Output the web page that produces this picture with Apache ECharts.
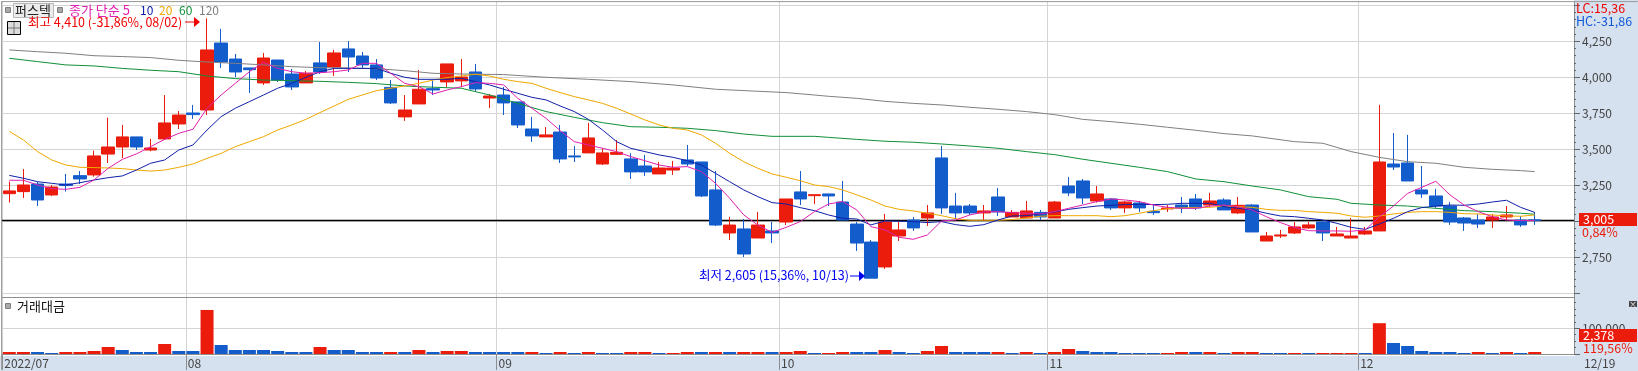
<!DOCTYPE html>
<html>
<head>
<meta charset="utf-8">
<title>퍼스텍</title>
<script src="https://cdn.jsdelivr.net/npm/echarts@6/dist/echarts.min.js"></script>
<style>
html,body{margin:0;padding:0;background:#fff;overflow:hidden}
#main{width:1638px;height:371px}
</style>
</head>
<body>
<div id="main"></div>
<script>
var opens=[3192,3206,3259,3183,3259,3317,3322,3467,3516,3586,3495,3572,3676,3752,3773,4238,4127,4065,3961,4120,4023,3961,4100,4072,4197,4148,4086,3930,3725,3815,3921,3968,3975,4037,3856,3877,3829,3641,3586,3620,3454,3475,3398,3465,3433,3384,3329,3356,3426,3412,3218,2919,2947,2884,2933,2995,3204,3178,3190,3134,2981,2856,2683,2898,3009,3023,3440,3106,3106,3058,3169,3030,3023,3062,3023,3245,3280,3141,3155,3093,3127,3069,3086,3113,3155,3113,3148,3058,3113,2863,2898,2919,2954,2995,2898,2884,2912,2933,3398,3405,3218,3176,3106,3023,3009,3009,3030,3009,3010];
var closes=[3211,3252,3148,3238,3248,3294,3454,3516,3586,3516,3509,3683,3738,3741,4190,4106,4037,4053,4134,3981,3933,4028,4037,4169,4141,4086,3995,3822,3773,3917,3912,4093,4002,3919,3870,3822,3669,3593,3600,3433,3447,3579,3475,3479,3343,3343,3370,3370,3398,3176,2974,2974,2773,2974,2919,3155,3155,3185,3176,3009,2849,2605,2995,2940,2954,3058,3093,3058,3058,3072,3065,3062,3072,3030,3134,3197,3162,3190,3093,3134,3093,3060,3092,3093,3093,3141,3079,3111,2926,2898,2905,2961,2975,2919,2912,2898,2933,3412,3377,3280,3190,3106,2995,2988,2981,3030,3044,2975,3005];
var lows=[3130,3162,3106,3176,3206,3259,3310,3405,3440,3495,3486,3565,3641,3711,3738,4065,4002,3891,3947,3968,3912,3961,4023,4009,4037,4062,3981,3815,3697,3815,3877,3933,3933,3900,3787,3738,3648,3551,3586,3405,3412,3475,3391,3461,3294,3315,3329,3322,3384,3169,2967,2870,2752,2884,2849,2974,3113,3120,3106,3009,2794,2605,2669,2863,2933,2968,3051,3016,3044,3009,3037,3030,3023,3009,3023,3176,3120,3130,3079,3058,3065,3044,3065,3058,3079,3099,3079,3051,2926,2863,2884,2912,2947,2863,2898,2884,2905,2933,3356,3280,3162,3093,2975,2933,2954,2954,3009,2961,2975];
var highs=[3275,3363,3275,3252,3329,3349,3491,3720,3669,3586,3572,3877,3766,3808,4410,4336,4162,4065,4169,4120,4058,4044,4245,4190,4252,4176,4127,3981,3877,4051,3977,4093,4127,4093,3884,3933,3829,3725,3655,3669,3523,3683,3507,3565,3472,3461,3412,3419,3530,3412,3349,3030,3016,3065,2995,3155,3349,3185,3190,3280,2995,2870,3051,2995,3030,3113,3523,3197,3120,3113,3231,3079,3141,3079,3141,3308,3294,3245,3162,3141,3141,3113,3113,3169,3190,3197,3160,3169,3120,2926,2940,2995,2995,3009,2961,3023,2961,3808,3613,3600,3384,3225,3134,3030,3051,3051,3106,3037,3065];

var ma5=[3285,3285,3252,3227,3222,3236,3287,3368,3430,3468,3518,3569,3611,3639,3785,3877,3958,4039,4104,4062,4039,4028,4032,4039,4051,4097,4097,4028,3958,3935,3884,3912,3935,3963,3958,3947,3854,3785,3715,3630,3553,3530,3507,3484,3449,3421,3391,3375,3380,3345,3264,3160,3044,2974,2923,2958,2998,3067,3120,3137,3079,2963,2940,2889,2875,2905,3002,3009,3044,3065,3067,3060,3056,3051,3067,3090,3113,3137,3155,3148,3137,3113,3097,3090,3090,3106,3113,3100,3079,3032,2991,2956,2935,2933,2933,2931,2940,3032,3106,3194,3236,3278,3183,3113,3067,3032,3009,3005,3005];
var ma10=[3319,3299,3275,3264,3252,3268,3287,3303,3315,3356,3403,3426,3495,3530,3634,3727,3785,3831,3877,3924,3958,4000,4039,4062,4062,4062,4062,4028,4000,3986,3986,3986,3993,3970,3947,3917,3889,3861,3843,3801,3762,3708,3634,3553,3507,3484,3461,3444,3421,3391,3333,3275,3218,3171,3130,3120,3095,3074,3044,3021,3016,2975,3002,3000,2998,2991,2998,2977,2965,2977,3009,3037,3039,3051,3065,3083,3095,3106,3111,3116,3118,3116,3118,3125,3125,3125,3102,3090,3079,3056,3037,3032,3021,3009,2986,2958,2944,2981,3021,3067,3095,3106,3113,3111,3120,3134,3146,3097,3062];
var ma20=[3625,3565,3484,3426,3391,3375,3373,3370,3366,3356,3349,3356,3375,3398,3437,3472,3518,3553,3588,3634,3669,3708,3755,3801,3847,3877,3907,3924,3940,3958,3981,3998,4009,4021,4009,3986,3970,3958,3924,3894,3866,3843,3819,3785,3745,3704,3669,3646,3634,3600,3542,3472,3414,3368,3329,3306,3282,3252,3241,3218,3183,3148,3106,3083,3072,3056,3039,3018,3007,3007,3007,3012,3023,3035,3039,3039,3039,3039,3032,3039,3056,3074,3088,3093,3095,3097,3106,3102,3097,3083,3076,3076,3067,3062,3056,3037,3028,3037,3051,3062,3067,3067,3062,3053,3051,3044,3037,3035,3044];
var ma60Idx=[0,2,4,6,8,10,12,14,16,18,20,22,24,26,28,29,32,34,36,38,40,42,44,46,48,50,52,54,57,58,60,62,64,66,68,70,72,74,76,78,80,82,84,86,88,90,92,94,95,97,99,101,103,105,107,108];
var ma60=[4132,4109,4086,4079,4062,4049,4039,4009,3991,3981,3977,3972,3965,3956,3940,3935,3924,3877,3819,3762,3722,3685,3657,3653,3646,3630,3606,3590,3590,3583,3569,3556,3549,3537,3523,3507,3484,3463,3431,3403,3375,3345,3294,3275,3245,3218,3171,3153,3125,3113,3106,3090,3074,3067,3056,3049];
var ma120Idx=[0,2,4,6,8,10,12,14,16,18,20,22,24,26,28,30,32,35,38,41,44,47,50,53,55,57,58,60,62,64,66,68,70,72,74,76,78,80,82,84,86,88,91,93,95,97,99,101,103,105,107,108];
var ma120=[4190,4178,4167,4150,4144,4137,4118,4106,4097,4086,4074,4067,4065,4060,4046,4028,4023,4019,4000,3986,3970,3947,3917,3903,3894,3877,3868,3854,3833,3819,3808,3792,3778,3762,3741,3708,3692,3674,3653,3632,3609,3593,3553,3542,3484,3444,3414,3403,3375,3361,3352,3345];

var turnover=[7800,7800,7800,3900,7800,7800,11700,27300,15600,7800,7800,39000,11700,11700,171500,35000,15600,15600,15600,11700,7800,7800,27300,15600,15600,7800,7800,7800,7800,15600,7800,11700,11700,7800,7800,7800,7800,7800,3900,7800,3900,7800,3900,3900,7800,7800,3900,3900,7800,7800,7800,7800,7800,7800,7800,7800,11700,3900,3900,7800,7800,7800,15600,7800,3900,11700,31200,7800,7800,7800,7800,3900,7800,3900,7800,19500,11700,7800,7800,3900,3900,3900,3900,7800,7800,7800,3900,7800,7800,3900,3900,3900,3900,3900,3900,3900,3900,120000,42900,31200,11700,7800,7800,3900,7800,3900,7800,3900,7800];
// 1 = red, 0 = blue
var turnoverUp=[1,1,0,0,1,1,1,1,0,0,0,1,0,0,1,0,0,0,0,0,0,0,1,0,0,0,0,1,0,1,0,1,1,0,0,0,0,1,0,1,0,1,0,0,1,1,0,1,1,0,1,0,1,1,0,1,1,0,1,1,0,0,1,0,0,1,1,0,0,0,1,0,1,0,1,1,0,0,0,0,0,0,1,1,0,1,0,1,1,0,0,1,0,1,1,1,0,1,0,0,0,0,0,0,1,0,1,0,1];

var monthTicks=[-0.5,12.5,34.5,54.5,73.5,95.5];
var monthLabels=['2022/07','08','09','10','11','12'];
var priceTicks=[2500,2750,3000,3250,3500,3750,4000,4250,4500];
var priceLabels=[2750,3250,3500,3750,4000,4250];
var priceMinor=[];
for(var p=2500;p<=4500;p+=50){priceMinor.push(p);}
var volMinor=[0,25000,50000,75000,100000,125000,150000,175000,200000];
var lastPrice=3005;

var RED='#eb1c0c',BLUE='#135ccc',FONT="'Noto Sans CJK KR','Liberation Sans',sans-serif";
var GRIDLINE='#d4d4d4',FRAME='#8e8e8e';
var xMin=-0.517,xMax=110.78;

var candles=[],bars=[];
for(var i=0;i<opens.length;i++){
	candles.push([i,opens[i],closes[i],lows[i],highs[i]]);
	bars.push({value:[i,turnover[i]],itemStyle:{color:turnoverUp[i]?RED:BLUE}});
}
function pairs(idx,arr){
	var r=[];
	for(var k=0;k<arr.length;k++){r.push([idx?idx[k]:k,arr[k]]);}
	return r;
}
function maLine(name,idx,arr,color){
	return {name:name,type:'line',xAxisIndex:0,yAxisIndex:0,data:pairs(idx,arr),showSymbol:false,
		lineStyle:{color:color,width:1},itemStyle:{color:color},z:4,silent:true};
}
function txt(x,y,s,color,size,align){
	return {type:'text',z:50,x:x,y:y,style:{text:s,fill:color,font:(size||12)+'px '+FONT,textAlign:align||'left',textVerticalAlign:'middle'}};
}
function box(x,y,w,h,fill,stroke,z){
	return {type:'rect',z:z===undefined?40:z,shape:{x:x,y:y,width:w,height:h},style:{fill:fill,stroke:stroke||null,lineWidth:1}};
}
function arrow(x1,x2,y,color){
	return {type:'group',z:50,children:[
		{type:'line',z:50,shape:{x1:x1,y1:y,x2:x2-5,y2:y},style:{stroke:color,lineWidth:1}},
		{type:'polygon',z:50,shape:{points:[[x2-6,y-5],[x2,y],[x2-6,y+5]]},style:{fill:color}}
	]};
}
function xAxisCommon(grid){
	return {type:'value',gridIndex:grid,min:xMin,max:xMax,
		axisTick:{show:false,customValues:monthTicks},
		axisLabel:{show:false,customValues:monthTicks},
		axisLine:{show:false},
		splitLine:{show:true,lineStyle:{color:GRIDLINE,width:1}}};
}
var xBottom=xAxisCommon(1);
xBottom.axisLine={show:true,onZero:false,lineStyle:{color:FRAME,width:1}};
xBottom.axisTick={show:true,customValues:monthTicks,length:16,lineStyle:{color:FRAME}};
xBottom.axisLabel={show:true,customValues:monthTicks,align:'left',margin:3,padding:[0,0,0,2],color:'#444',fontSize:12,fontFamily:FONT,
	formatter:function(v){var n=monthTicks.indexOf(v);return n<0?'':monthLabels[n];}};
var xTop=xAxisCommon(0);
xTop.axisLine={show:true,onZero:false,lineStyle:{color:FRAME,width:1}};

var yMin=2474.3,yMax=4529.9,vMax=222000;
var option={
	animation:false,
	backgroundColor:'#fff',
	grid:[
		{left:2,top:1,width:1572,height:296},
		{left:2,top:297,width:1572,height:57}
	],
	xAxis:[xTop,xBottom],
	yAxis:[
		{type:'value',gridIndex:0,position:'right',min:yMin,max:yMax,scale:true,
			axisLine:{show:true,onZero:false,lineStyle:{color:FRAME,width:1}},
			axisTick:{show:true,length:6,customValues:priceTicks,lineStyle:{color:'#666'}},
			axisLabel:{show:true,customValues:priceLabels,margin:8,color:'#444',fontSize:12,fontFamily:FONT,
				formatter:function(v){return v.toLocaleString('en-US');}},
			splitLine:{show:true,lineStyle:{color:GRIDLINE,width:1}}},
		// minor ticks: a second axis flips to the left, so push it back over with offset
		{type:'value',gridIndex:0,position:'left',offset:-1572,min:yMin,max:yMax,scale:true,
			axisLine:{show:false},
			axisTick:{show:true,inside:true,length:2,customValues:priceMinor,lineStyle:{color:'#666'}},
			axisLabel:{show:false},splitLine:{show:false}},
		{type:'value',gridIndex:1,position:'right',min:0,max:vMax,
			axisLine:{show:true,onZero:false,lineStyle:{color:FRAME,width:1}},
			axisTick:{show:true,length:6,customValues:[0,100000],lineStyle:{color:'#666'}},
			axisLabel:{show:true,customValues:[100000],margin:8,color:'#444',fontSize:12,fontFamily:FONT,
				formatter:function(v){return v.toLocaleString('en-US');}},
			splitLine:{show:true,lineStyle:{color:GRIDLINE,width:1}}},
		{type:'value',gridIndex:1,position:'left',offset:-1572,min:0,max:vMax,
			axisLine:{show:false},
			axisTick:{show:true,inside:true,length:2,customValues:volMinor,lineStyle:{color:'#666'}},
			axisLabel:{show:false},splitLine:{show:false}}
	],
	series:[
		{name:'현재가',type:'line',xAxisIndex:0,yAxisIndex:0,data:[[xMin,lastPrice],[xMax,lastPrice]],showSymbol:false,
			lineStyle:{color:'#000',width:1.5},z:2,silent:true},
		{name:'캔들',type:'candlestick',xAxisIndex:0,yAxisIndex:0,data:candles,barWidth:13,z:3,silent:true,
			itemStyle:{color:RED,color0:BLUE,borderColor:RED,borderColor0:BLUE,borderColorDoji:BLUE,borderWidth:1}},
		maLine('120',ma120Idx,ma120,'#808080'),
		maLine('60',ma60Idx,ma60,'#109038'),
		maLine('20',null,ma20,'#f0a800'),
		maLine('10',null,ma10,'#1020a8'),
		maLine('5',null,ma5,'#e020b0'),
		{name:'거래대금',type:'bar',xAxisIndex:1,yAxisIndex:2,data:bars,barWidth:13,z:3,silent:true}
	],
	graphic:{elements:[
		box(1575,0,63,371,'#d6e1ef',null,-10),
		box(0,356,1638,15,'#d6e1ef',null,-10),
		box(1.5,1.5,1636,0.1,null,'#a0a0a0',30),
		box(1.5,1.5,0.1,368,null,'#a0a0a0',30),

		box(5.5,7.5,5,5,'#a8a8a8','#808080'),
		box(13.5,3.5,40,14,'#ececec','#b8b8b8'),
		txt(33,10.5,'퍼스텍','#222',13,'center'),
		box(57.5,7.5,5,5,'#a8a8a8','#808080'),
		txt(69,10.5,'종가 단순 5','#e020b0',13),
		txt(140,10.5,'10','#1020a8',12),
		txt(159,10.5,'20','#f0a800',12),
		txt(179,10.5,'60','#109038',12),
		txt(199,10.5,'120','#808080',12),
		box(7.5,21.5,13,13,'#dcdcdc','#000'),
		{type:'line',z:41,shape:{x1:8,y1:28,x2:20,y2:28},style:{stroke:'#777'}},
		{type:'line',z:41,shape:{x1:14,y1:22,x2:14,y2:34},style:{stroke:'#777'}},

		txt(28,22,'최고 4,410 (-31,86%, 08/02)','#f00000',12.5),
		arrow(185,200,22,'#f00000'),
		txt(699,275.5,'최저 2,605 (15,36%, 10/13)','#0000f0',12.5),
		arrow(850,865,276,'#0000f0'),

		box(5.5,303.5,5,5,'#a8a8a8','#808080'),
		txt(17,306,'거래대금','#111',13),
		box(1629,301,8,6,'#444',null),
		txt(1633,304,'×','#fff',8,'center'),

		txt(1576,8,'LC:15,36','#f00000',12.5),
		txt(1576,21,'HC:-31,86','#1058d8',12.5),
		box(1579,213,58,13,RED,null,45),
		txt(1583,219.5,'3,005','#fff',12.5),
		txt(1582,232,'0,84%',RED,12.5),
		box(1579,329,58,13,RED,null,45),
		txt(1583,335.5,'2,378','#fff',12.5),
		txt(1583,348,'119,56%',RED,12.5),
		txt(1584,363.5,'12/19','#444',12)
	]}
};
var myChart=echarts.init(document.getElementById('main'),null,{renderer:'canvas'});
myChart.setOption(option);
</script>
</body>
</html>
